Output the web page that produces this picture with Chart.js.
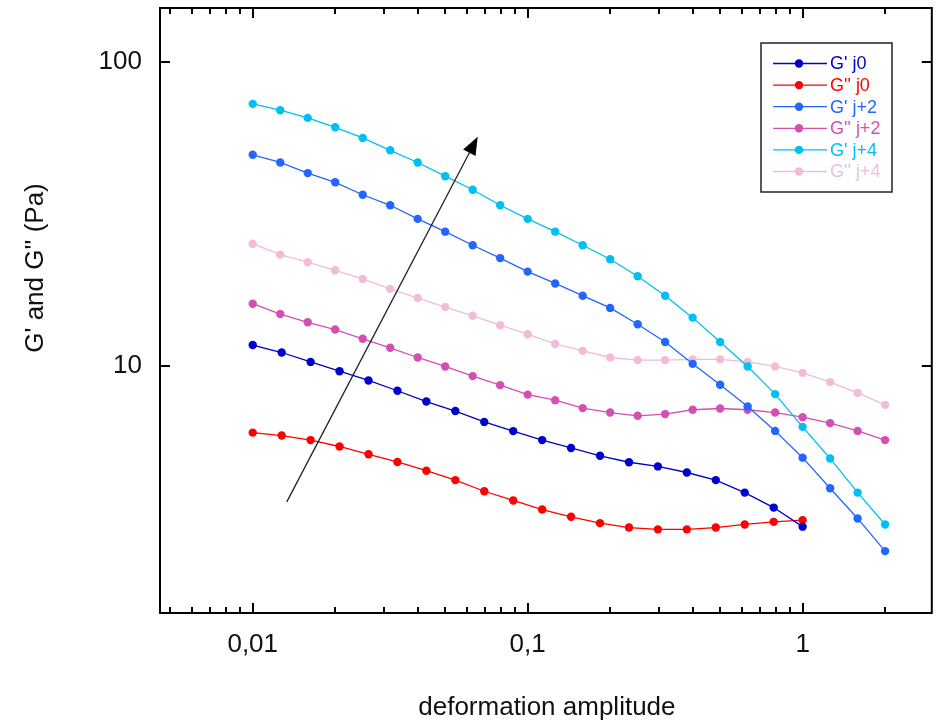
<!DOCTYPE html>
<html>
<head>
<meta charset="utf-8">
<script src="https://cdn.jsdelivr.net/npm/chart.js@4.4.1/dist/chart.umd.min.js"></script>
<style>
  html, body { margin: 0; padding: 0; background: #fff; }
  #wrap { width: 936px; height: 721px; }
</style>
</head>
<body>
<div id="wrap"><canvas id="canvas" width="936" height="721"></canvas></div>
<script>
// amplitudes (j0 run has 20 points, j+2 / j+4 runs have 24)
const xJ0 = [0.01, 0.01274, 0.01624, 0.02069, 0.02637, 0.0336, 0.04281, 0.05456, 0.06952, 0.08859,
  0.1129, 0.1438, 0.1833, 0.2336, 0.2976, 0.3793, 0.4833, 0.6158, 0.7848, 1.0];
const xJ24 = [0.01, 0.01259, 0.01585, 0.01995, 0.02512, 0.03162, 0.03981, 0.05012, 0.0631, 0.07943,
  0.1, 0.1259, 0.1585, 0.1995, 0.2512, 0.3162, 0.3981, 0.5012, 0.631, 0.7943, 1.0, 1.259, 1.585, 1.995];

const gpJ0  = [11.7, 11.06, 10.3, 9.6, 8.95, 8.28, 7.63, 7.1, 6.54, 6.10, 5.70, 5.37, 5.06, 4.82, 4.67, 4.46, 4.21, 3.83, 3.42, 2.96];
const gppJ0 = [6.03, 5.90, 5.70, 5.43, 5.12, 4.83, 4.52, 4.21, 3.87, 3.61, 3.37, 3.19, 3.04, 2.94, 2.90, 2.90, 2.94, 3.01, 3.07, 3.11];
const gpJ2  = [49.4, 46.6, 43.0, 40.1, 36.5, 33.7, 30.4, 27.6, 24.9, 22.6, 20.4, 18.65, 17.0, 15.5, 13.7, 11.97, 10.15, 8.66, 7.35, 6.11, 4.99, 3.96, 3.15, 2.46];
const gppJ2 = [16.0, 14.8, 13.9, 13.16, 12.27, 11.46, 10.65, 9.95, 9.25, 8.64, 8.04, 7.71, 7.26, 7.02, 6.85, 6.94, 7.17, 7.24, 7.17, 7.02, 6.78, 6.48, 6.11, 5.70];
const gpJ4  = [72.6, 69.2, 65.3, 60.8, 56.1, 51.1, 46.6, 42.0, 37.9, 33.7, 30.4, 27.6, 24.9, 22.4, 19.7, 17.0, 14.4, 11.97, 9.95, 8.07, 6.30, 4.96, 3.83, 3.01];
const gppJ4 = [25.2, 23.2, 21.9, 20.6, 19.3, 17.9, 16.7, 15.6, 14.6, 13.6, 12.7, 11.8, 11.2, 10.65, 10.44, 10.44, 10.5, 10.5, 10.3, 9.95, 9.48, 8.84, 8.15, 7.44];

const labels = ["G' j0", "G'' j0", "G' j+2", "G'' j+2", "G' j+4", "G'' j+4"];
const colors = ["#0000cc", "#ff0000", "#2266ff", "#d44fb4", "#00bff3", "#f0bcd8"];

const xMajorTicks = [0.01, 0.1, 1];
const xMinorTicks = [0.005, 0.006, 0.007, 0.008, 0.009, 0.02, 0.03, 0.04, 0.05, 0.06, 0.07, 0.08, 0.09,
  0.2, 0.3, 0.4, 0.5, 0.6, 0.7, 0.8, 0.9, 2];
const yMajorTicks = [10, 100];

// arrow, in data coordinates
const arrowFrom = [0.0133, 3.57];
const arrowTo = [0.0658, 56.6];

const FONT = "Arial, 'Liberation Sans', sans-serif";

function pairs(xs, ys) {
  return ys.map((y, i) => ({ x: xs[i], y: y }));
}

const series = [
  pairs(xJ0, gpJ0), pairs(xJ0, gppJ0),
  pairs(xJ24, gpJ2), pairs(xJ24, gppJ2),
  pairs(xJ24, gpJ4), pairs(xJ24, gppJ4)
];

const datasets = series.map((d, i) => ({
  label: labels[i],
  data: d,
  borderColor: colors[i],
  backgroundColor: colors[i],
  borderWidth: 1.3,
  pointRadius: 4.2,
  pointBorderWidth: 0,
  tension: 0
}));

function isDecade(v) {
  const l = Math.log10(v);
  return Math.abs(l - Math.round(l)) < 1e-6;
}

// drop the half-label padding chart.js keeps at the ends of each axis
function noEndPadding(scale) {
  scale.paddingTop = 0;
  scale.paddingBottom = 0;
  scale.paddingLeft = 0;
  scale.paddingRight = 0;
}

const decor = {
  id: 'decor',
  afterDraw(chart) {
    const ctx = chart.ctx;
    const a = chart.chartArea;
    const xs = chart.scales.x, ys = chart.scales.y;
    ctx.save();
    ctx.strokeStyle = "#000";
    ctx.lineWidth = 2;
    ctx.strokeRect(a.left, a.top, a.right - a.left, a.bottom - a.top);

    // inward ticks
    ctx.lineWidth = 2;
    ctx.beginPath();
    xMajorTicks.concat(xMinorTicks).forEach(v => {
      const len = xMajorTicks.includes(v) ? 10 : 6;
      const px = Math.round(xs.getPixelForValue(v));
      ctx.moveTo(px, a.bottom); ctx.lineTo(px, a.bottom - len);
      ctx.moveTo(px, a.top); ctx.lineTo(px, a.top + len);
    });
    yMajorTicks.forEach(v => {
      const py = Math.round(ys.getPixelForValue(v));
      ctx.moveTo(a.left, py); ctx.lineTo(a.left + 10, py);
      ctx.moveTo(a.right, py); ctx.lineTo(a.right - 10, py);
    });
    ctx.stroke();

    // axis titles
    ctx.fillStyle = "#111";
    ctx.font = "26px " + FONT;
    ctx.textAlign = "center";
    ctx.textBaseline = "alphabetic";
    ctx.fillText("deformation amplitude", (a.left + a.right) / 2 + 1, 715);
    ctx.save();
    ctx.translate(43, 268);
    ctx.rotate(-Math.PI / 2);
    ctx.fillText("G' and G'' (Pa)", 0, 0);
    ctx.restore();

    // arrow
    const x0 = xs.getPixelForValue(arrowFrom[0]), y0 = ys.getPixelForValue(arrowFrom[1]);
    const x1 = xs.getPixelForValue(arrowTo[0]), y1 = ys.getPixelForValue(arrowTo[1]);
    const ang = Math.atan2(y1 - y0, x1 - x0);
    const hl = 18, hw = 7;
    const bx = x1 - hl * Math.cos(ang), by = y1 - hl * Math.sin(ang);
    ctx.strokeStyle = "#222";
    ctx.lineWidth = 1.3;
    ctx.beginPath();
    ctx.moveTo(x0, y0); ctx.lineTo(bx, by);
    ctx.stroke();
    ctx.fillStyle = "#000";
    ctx.beginPath();
    ctx.moveTo(x1, y1);
    ctx.lineTo(bx + hw * Math.sin(ang), by - hw * Math.cos(ang));
    ctx.lineTo(bx - hw * Math.sin(ang), by + hw * Math.cos(ang));
    ctx.closePath();
    ctx.fill();

    // legend box
    const lx = 761, ly = 43, lw = 131, lh = 149;
    ctx.fillStyle = "#fff";
    ctx.fillRect(lx, ly, lw, lh);
    ctx.strokeStyle = "#222";
    ctx.lineWidth = 1.5;
    ctx.strokeRect(lx, ly, lw, lh);
    ctx.font = "18px " + FONT;
    ctx.textAlign = "left";
    ctx.textBaseline = "middle";
    chart.data.datasets.forEach((ds, i) => {
      const y = 63.5 + i * 21.6;
      ctx.strokeStyle = ds.borderColor;
      ctx.lineWidth = 1.3;
      ctx.beginPath();
      ctx.moveTo(773, y); ctx.lineTo(827, y);
      ctx.stroke();
      ctx.fillStyle = ds.backgroundColor;
      ctx.beginPath();
      ctx.arc(799, y, 4.2, 0, Math.PI * 2);
      ctx.fill();
      ctx.fillText(ds.label, 830, y + 1);
    });
    ctx.restore();
  }
};

const chart = new Chart(document.getElementById("canvas"), {
  type: 'line',
  data: { datasets: datasets },
  plugins: [decor],
  options: {
    responsive: false,
    animation: false,
    layout: { padding: { top: 8, right: 4, left: 0, bottom: 0 } },
    plugins: { legend: { display: false }, tooltip: { enabled: false } },
    scales: {
      x: {
        type: 'logarithmic',
        min: 0.0046,
        max: 2.95,
        grid: { display: false, drawTicks: false },
        border: { display: false },
        afterFit(scale) { scale.height = 108; noEndPadding(scale); },
        ticks: {
          autoSkip: false,
          maxRotation: 0,
          padding: 16,
          color: "#111",
          font: { family: FONT, size: 26 },
          callback(v) {
            if (!isDecade(v) || v < 0.009 || v > 1.1) return '';
            return String(Number(v.toPrecision(3))).replace('.', ',');
          }
        }
      },
      y: {
        type: 'logarithmic',
        min: 1.54,
        max: 150,
        grid: { display: false, drawTicks: false },
        border: { display: false },
        afterFit(scale) { scale.width = 160; noEndPadding(scale); },
        ticks: {
          autoSkip: false,
          padding: 18,
          color: "#111",
          font: { family: FONT, size: 26 },
          callback(v) {
            if (!isDecade(v) || v < 9 || v > 110) return '';
            return String(Math.round(v));
          }
        }
      }
    }
  }
});
</script>
</body>
</html>
